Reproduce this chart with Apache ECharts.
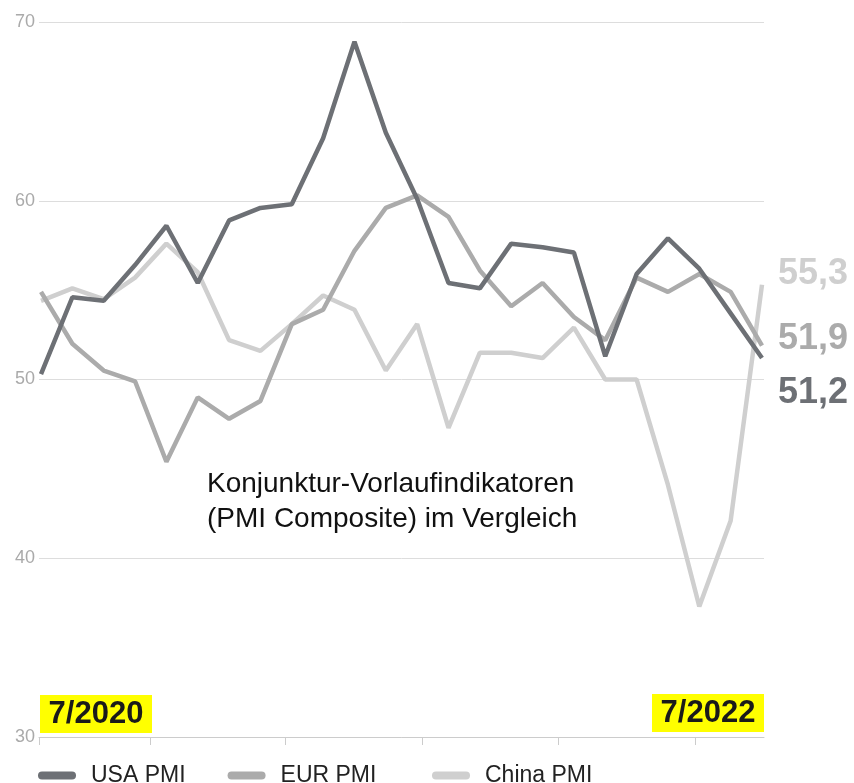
<!DOCTYPE html>
<html>
<head>
<meta charset="utf-8">
<script src="https://cdn.jsdelivr.net/npm/echarts@6/dist/echarts.min.js"></script>
<style>
  html, body { margin: 0; background: #fff; }
  #chart { width: 854px; height: 783px; }
</style>
</head>
<body>
<div id="chart"></div>
<script>
// monthly PMI composite readings, 24 points between 7/2020 and 7/2022
const usaPmi = [50.3, 54.6, 54.4, 56.4, 58.6, 55.4, 58.9, 59.6, 59.8, 63.5, 68.9, 63.8,
  60.1, 55.4, 55.1, 57.6, 57.4, 57.1, 51.3, 55.9, 57.9, 56.2, 53.7, 51.2]
const eurPmi = [54.9, 52.0, 50.5, 49.9, 45.4, 49.0, 47.8, 48.8, 53.1, 53.9, 57.2, 59.6,
  60.3, 59.1, 56.1, 54.1, 55.4, 53.5, 52.2, 55.7, 54.9, 55.9, 54.9, 51.9]
const chinaPmi = [54.4, 55.1, 54.5, 55.7, 57.6, 56.0, 52.2, 51.6, 53.1, 54.7, 53.9, 50.5,
  53.1, 47.3, 51.5, 51.5, 51.2, 52.9, 50.0, 50.0, 44.1, 37.3, 42.1, 55.3]
const seriesNames = ['USA PMI', 'EUR PMI', 'China PMI']
const periodLabels = ['7/2020', '7/2022']
const yTicks = [30, 70, 10] // min, max, step
// x tick marks (no labels) in point-index units
const xTicks = [-0.064, 3.48, 7.8, 12.15, 16.49, 20.87]
const title = 'Konjunktur-Vorlaufindikatoren\n(PMI Composite) im Vergleich'

const font = '"Liberation Sans", Arial, Helvetica, sans-serif'
const colors = { usa: '#6d7075', eur: '#ababab', china: '#cfcfcf' }
const toPairs = vals => vals.map((v, i) => [i, v])
const comma = p => p.value[1].toFixed(1).replace('.', ',')
const capsule = 'path://M4,0H34A4,4 0 0 1 34,8H4A4,4 0 0 1 4,0Z'

const line = (name, vals, color, dy) => ({
  name, type: 'line', data: toPairs(vals), showSymbol: false, symbol: 'none',
  lineStyle: { color, width: 4.5 }, itemStyle: { color },
  endLabel: { show: true, formatter: comma, color, fontFamily: font, fontSize: 36, fontWeight: 'bold',
    distance: 0, offset: [16, dy] },
  emphasis: { disabled: true },
})

// two legend blocks so the China entry sits a bit further right
const legend = (names, left) => ({
  data: names, left, top: 764, padding: 0, itemWidth: 38, itemHeight: 8, itemGap: 42,
  icon: capsule, selectedMode: false,
  textStyle: { fontFamily: font, fontSize: 23, color: '#222', padding: [0, 0, 0, 10] },
})

const chart = echarts.init(document.getElementById('chart'))
chart.setOption({
  animation: false,
  backgroundColor: '#fff',
  grid: { left: 39, right: 90, top: 22, bottom: 46 },
  legend: [legend(seriesNames.slice(0, 2), 38), legend(seriesNames.slice(2), 432)],
  xAxis: {
    type: 'value', min: -0.064, max: usaPmi.length - 1 + 0.064, splitLine: { show: false },
    axisLine: { lineStyle: { color: '#cccccc', width: 1 } },
    axisTick: { show: true, length: 8, lineStyle: { color: '#cccccc' }, customValues: xTicks },
    axisLabel: { show: false },
  },
  yAxis: {
    type: 'value', min: yTicks[0], max: yTicks[1], interval: yTicks[2],
    axisLine: { show: false }, axisTick: { show: false },
    axisLabel: { color: '#aaaaaa', fontFamily: font, fontSize: 18, margin: 4 },
    splitLine: { lineStyle: { color: '#dddddd', width: 1 } },
  },
  series: [
    line(seriesNames[2], chinaPmi, colors.china, -11),
    line(seriesNames[1], eurPmi, colors.eur, -6),
    line(seriesNames[0], usaPmi, colors.usa, 35),
  ],
  graphic: [
    { type: 'rect', shape: { x: 40, y: 695, width: 112, height: 38 }, style: { fill: '#ffff00' }, z: 10 },
    { type: 'text', x: 96, y: 714, z: 11, style: { text: periodLabels[0], fill: '#1a1a1a',
      font: 'bold 31px ' + font, textAlign: 'center', textVerticalAlign: 'middle' } },
    { type: 'rect', shape: { x: 652, y: 694, width: 112, height: 38 }, style: { fill: '#ffff00' }, z: 10 },
    { type: 'text', x: 708, y: 713, z: 11, style: { text: periodLabels[1], fill: '#1a1a1a',
      font: 'bold 31px ' + font, textAlign: 'center', textVerticalAlign: 'middle' } },
    { type: 'text', x: 207, y: 467, z: 11, style: { text: title, fill: '#111',
      font: '28px ' + font, lineHeight: 35, textAlign: 'left', textVerticalAlign: 'top' } },
  ],
})
</script>
</body>
</html>
